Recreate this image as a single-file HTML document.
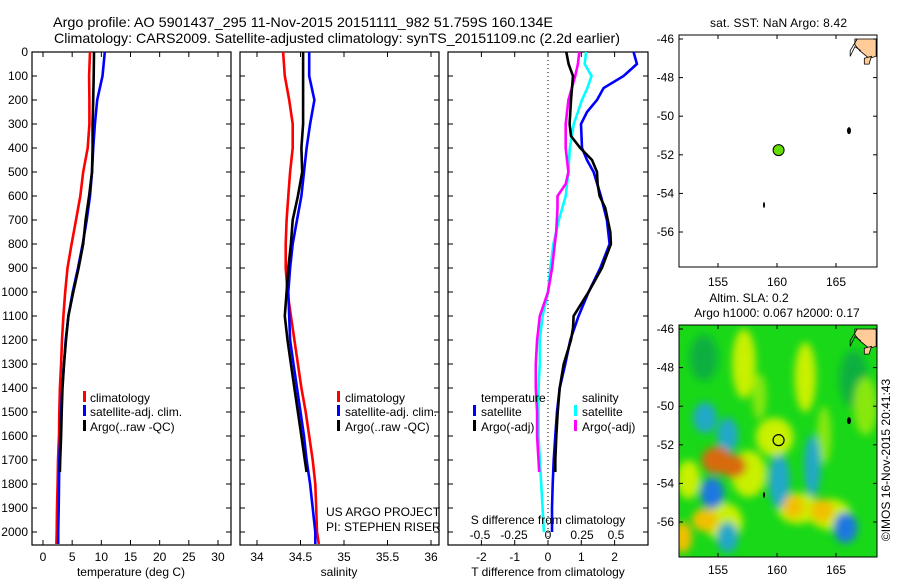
<!DOCTYPE html>
<html><head><meta charset="utf-8"><style>
html,body{margin:0;padding:0;background:#fff}
svg{display:block;font-family:"Liberation Sans",sans-serif}
text{font-size:12px;fill:#000}
</style></head><body>
<svg id="c" width="900" height="580" viewBox="0 0 900 580">
<defs>
<clipPath id="mapclip"><rect x="679" y="325" width="198" height="232"/></clipPath>
<filter id="blur" x="-50%" y="-50%" width="200%" height="200%"><feGaussianBlur stdDeviation="4"/></filter>
</defs>
<text x="53" y="27" style="font-size:14px" textLength="500" lengthAdjust="spacingAndGlyphs">Argo profile: AO 5901437_295 11-Nov-2015 20151111_982 51.759S 160.134E</text>
<text x="54" y="43" style="font-size:14px" textLength="566" lengthAdjust="spacingAndGlyphs">Climatology: CARS2009. Satellite-adjusted climatology: synTS_20151109.nc (2.2d earlier)</text>
<g id="g"></g>
</svg>
<script>
// ---- data ----
const depthT = [0,100,200,300,400,500,600,700,800,900,1000,1100,1200,1300,1400,1500,1600,1700,1800,1900,2000,2050];
const tempClim = [8.06,7.9,7.95,7.95,7.66,6.9,6.4,5.66,4.9,4.2,3.8,3.5,3.26,3.1,2.9,2.8,2.75,2.57,2.5,2.4,2.35,2.3];
const tempSat  = [10.6,10.2,9.3,8.9,8.6,8.4,8.06,7.5,6.8,6.0,5.1,4.35,3.9,3.6,3.3,3.1,2.95,2.8,2.75,2.7,2.6,2.6];
const depthA = [0,100,200,300,400,500,600,700,800,900,1000,1100,1200,1300,1400,1500,1600,1700,1750];
const tempArgo = [8.75,8.7,8.6,8.5,8.5,8.4,7.9,7.3,6.9,6.1,5.2,4.35,3.95,3.6,3.35,3.2,3.1,2.95,2.9];
const salClim = [34.30,34.32,34.37,34.41,34.41,34.38,34.36,34.34,34.33,34.33,34.35,34.39,34.43,34.47,34.51,34.56,34.60,34.64,34.67,34.68,34.69,34.71];
const salSat  = [34.60,34.60,34.66,34.61,34.57,34.54,34.51,34.46,34.41,34.38,34.36,34.37,34.38,34.42,34.46,34.50,34.54,34.57,34.61,34.64,34.67,34.67];
const salArgo = [34.53,34.53,34.53,34.53,34.51,34.52,34.47,34.41,34.39,34.36,34.34,34.32,34.35,34.39,34.43,34.47,34.51,34.55,34.57];
const depthD = [0,50,100,150,200,250,300,400,450,500,600,700,800,900,1000,1100,1200,1300,1400,1500,1600,1700,1800,1900,2000];
const dTsat = [2.57,2.67,2.27,1.67,1.47,1.17,0.99,1.02,1.17,1.37,1.59,1.77,1.85,1.57,1.22,0.92,0.67,0.52,0.35,0.27,0.22,0.17,0.14,0.12,0.12];
const dSsat = [0.28,0.27,0.32,0.29,0.25,0.22,0.19,0.16,0.155,0.15,0.13,0.08,0.04,0.017,0,-0.04,-0.06,-0.06,-0.07,-0.07,-0.07,-0.06,-0.05,-0.04,-0.03];
const depthDA = [0,50,100,200,300,350,400,450,500,550,600,650,750,800,900,1000,1100,1150,1200,1300,1400,1500,1600,1700,1750];
const dTargo = [0.55,0.62,0.75,0.69,0.65,0.69,0.97,1.32,1.47,1.49,1.55,1.72,1.87,1.89,1.62,1.22,0.77,0.75,0.69,0.47,0.35,0.29,0.25,0.22,0.22];
const dSargo = [0.23,0.22,0.20,0.15,0.13,0.13,0.13,0.14,0.15,0.13,0.07,0.07,0.06,0.05,0.03,0,-0.06,-0.07,-0.08,-0.09,-0.09,-0.08,-0.08,-0.07,-0.065];
const depthTicks = [0,100,200,300,400,500,600,700,800,900,1000,1100,1200,1300,1400,1500,1600,1700,1800,1900,2000];
const tempTicks = [0,5,10,15,20,25,30];
const salTicks = [34,34.5,35,35.5,36];
const salTickLabels = ["34","34.5","35","35.5","36"];
const dTTicks = [-2,-1,0,1,2];
const dSTicks = [-0.5,-0.25,0,0.25,0.5];
const dSTickLabels = ["-0.5","-0.25","0","0.25","0.5"];
const lonTicks = [155,160,165];
const latTicks = [-46,-48,-50,-52,-54,-56];
const argoLon = 160.134, argoLat = -51.759;
// SLA blobs: lon, lat, rx(deg), ry(deg), value(-1 blue .. +1 orange)
const slaLon = [157.2,162.4,159.8,157.6,161.8,164.5,152.5,155.5,153.8,166.5,164.0,153.9,155.8,154.9,156.3,154.5,153.9,152.0,155.8,160.2,163.0,163.8,161.4,165.8,167.5,158.5];
const slaLat = [-47.8,-48.5,-51.6,-53.5,-55.3,-55.6,-53.8,-56.0,-47.5,-48.6,-51.5,-50.6,-51.5,-52.8,-53.1,-54.5,-55.9,-56.8,-56.8,-53.9,-53.1,-55.4,-55.2,-56.3,-50.0,-49.5];
const slaRx = [1.0,0.9,1.6,1.5,1.8,1.8,1.0,1.6,1.2,1.2,0.6,1.0,0.9,1.3,1.1,1.0,1.1,0.8,0.9,0.9,0.7,1.0,0.9,1.0,1.0,0.6];
const slaRy = [1.8,1.8,1.0,1.2,0.8,0.8,1.0,1.0,1.2,1.5,1.5,0.8,0.9,0.7,0.6,0.8,0.6,0.8,0.8,1.4,1.6,0.6,0.6,0.8,1.5,1.2];
const slaVal = [0.4,0.4,0.45,0.45,0.45,0.45,0.45,0.45,-0.25,-0.25,0.3,-0.7,-0.7,0.85,0.95,-0.9,0.75,0.75,-0.75,-0.6,-0.6,0.75,0.6,-0.85,0.35,0.3];

// ---- helpers ----
const NS="http://www.w3.org/2000/svg";
const G=document.getElementById('g');
function mk(tag,attrs,parent){const e=document.createElementNS(NS,tag);for(const k in attrs)e.setAttribute(k,attrs[k]);(parent||G).appendChild(e);return e;}
const yTop=52, yBot=545;
const yD = d => yTop + 0.24*d;
const xT = t => 43 + 5.833*t;
const xS = s => 257 + 87*(s-34);
const xDT = t => 548 + 33.3*t;
const xDS = s => 548 + 136*s;

function panel(x0,x1,name){
  const r=mk('rect',{x:x0,y:yTop,width:x1-x0,height:yBot-yTop,fill:'none',stroke:'#000','stroke-width':1.2});
  
  
  depthTicks.forEach(d=>{
    mk('line',{x1:x0,x2:x0+5,y1:yD(d),y2:yD(d),stroke:'#000'});
    mk('line',{x1:x1-5,x2:x1,y1:yD(d),y2:yD(d),stroke:'#000'});
  });
}
function xticks(vals,labels,fx,name){
  vals.forEach((v,i)=>{
    const x=fx(v);
    mk('line',{x1:x,x2:x,y1:yTop,y2:yTop+5,stroke:'#000'});
    mk('line',{x1:x,x2:x,y1:yBot-5,y2:yBot,stroke:'#000'});
    const t=mk('text',{x:x,y:561,'text-anchor':'middle'});t.textContent=labels[i];
    
    
  });
}
function line(xs,ds,fx,color,name){
  const pts=xs.map((v,i)=>fx(v).toFixed(1)+','+yD(ds[i]).toFixed(1)).join(' ');
  const p=mk('polyline',{points:pts,fill:'none',stroke:color,'stroke-width':2.6,'stroke-linejoin':'miter'});
  
  
}
function txt(x,y,s,name,anchor){
  const t=mk('text',{x:x,y:y,'text-anchor':anchor||'start'});t.textContent=s;
  
  
  return t;
}
function legendMark(x,y,color){
  const m=mk('rect',{x:x,y:y-10,width:3,height:11,fill:color});
  
  
}

depthTicks.forEach(d=>{txt(28,yD(d)+4,String(d),'depth-tick-label','end');});

// panel 1
panel(32,231,'temperature-panel');
xticks(tempTicks,tempTicks.map(String),xT,'temperature-tick-label');
line(tempClim,depthT,xT,'#ff0000','temp-climatology-line');
line(tempSat,depthT,xT,'#0000ff','temp-satellite-line');
line(tempArgo,depthA,xT,'#000000','temp-argo-line');
txt(131,576,'temperature (deg C)','temperature-axis-title','middle');
legendMark(83,401,'#ff0000');txt(90,402,'climatology','legend-climatology');
legendMark(83,415,'#0000ff');txt(90,416,'satellite-adj. clim.','legend-satellite');
legendMark(83,430,'#000000');txt(90,431,'Argo(..raw -QC)','legend-argo');

// panel 2
panel(240,439,'salinity-panel');
xticks(salTicks,salTickLabels,xS,'salinity-tick-label');
line(salClim,depthT,xS,'#ff0000','sal-climatology-line');
line(salSat,depthT,xS,'#0000ff','sal-satellite-line');
line(salArgo,depthA,xS,'#000000','sal-argo-line');
txt(339,576,'salinity','salinity-axis-title','middle');
legendMark(337,401,'#ff0000');txt(345,402,'climatology','legend-climatology');
legendMark(337,415,'#0000ff');txt(345,416,'satellite-adj. clim.','legend-satellite');
legendMark(337,430,'#000000');txt(345,431,'Argo(..raw -QC)','legend-argo');
txt(326,516,'US ARGO PROJECT','project-label');
txt(326,531,'PI: STEPHEN RISER','pi-label');

// panel 3
panel(448,648,'difference-panel');
xticks(dTTicks,dTTicks.map(String),xDT,'t-diff-tick-label');
mk('line',{x1:548,x2:548,y1:yTop,y2:yBot,stroke:'#000','stroke-dasharray':'1,3'});
line(dSsat,depthD,xDS,'#00ffff','s-diff-satellite-line');
line(dSargo,depthDA,xDS,'#ff00ff','s-diff-argo-line');
line(dTsat,depthD,xDT,'#0000ff','t-diff-satellite-line');
line(dTargo,depthDA,xDT,'#000000','t-diff-argo-line');
txt(548,576,'T difference from climatology','t-diff-axis-title','middle');
txt(548,524,'S difference from climatology','s-diff-axis-title','middle');
dSTicks.forEach((v,i)=>{txt(xDS(v),539,dSTickLabels[i],'s-diff-tick-label','middle');});
txt(481,402,'temperature','legend-temperature-header');
legendMark(473,415,'#0000ff');txt(481,416,'satellite','legend-t-satellite');
legendMark(473,430,'#000000');txt(481,431,'Argo(-adj)','legend-t-argo');
txt(582,402,'salinity','legend-salinity-header');
legendMark(574,415,'#00ffff');txt(582,416,'satellite','legend-s-satellite');
legendMark(574,430,'#ff00ff');txt(582,431,'Argo(-adj)','legend-s-argo');

// maps
const xLon = l => 777 + 11.8*(l-160);
function mapFrame(top){ return la => top+4 + 19.3*(-46-la); }
function coast(yLat,grp){
  const pts=[[166.6,-46],[168.4,-46],[168.4,-46.9],[167.8,-47.0],[167.0,-46.6],[166.6,-46.3]];
  const p=mk('polygon',{points:pts.map(a=>xLon(a[0])+','+yLat(a[1])).join(' '),fill:'#ffcc99',stroke:'#000','stroke-width':0.8},grp);
  
  
  const s=mk('polygon',{points:[[167.4,-47.0],[168.0,-46.9],[167.8,-47.3],[167.4,-47.3]].map(a=>xLon(a[0])+','+yLat(a[1])).join(' '),fill:'#ffcc99',stroke:'#000','stroke-width':0.8},grp);
  
  
  mk('polyline',{points:[[166.8,-46.0],[166.2,-46.6],[166.2,-46.9],[166.6,-46.4],[167.1,-46.6]].map(a=>xLon(a[0])+','+yLat(a[1])).join(' '),fill:'none',stroke:'#000','stroke-width':0.8},grp);
  const a=mk('ellipse',{cx:xLon(166.1),cy:yLat(-50.75),rx:2,ry:3.5,fill:'#000'},grp);
  
  
  const m=mk('ellipse',{cx:xLon(158.9),cy:yLat(-54.6),rx:1,ry:3,fill:'#000'},grp);
  
  
}
function mapAxes(top,h,yLat,labY,name){
  const r=mk('rect',{x:679,y:top,width:198,height:h,fill:'none',stroke:'#000','stroke-width':1});
  
  
  latTicks.forEach(la=>{
    const y=yLat(la);
    mk('line',{x1:679,x2:683,y1:y,y2:y,stroke:'#000'});
    mk('line',{x1:873,x2:877,y1:y,y2:y,stroke:'#000'});
    txt(674,y+4,String(la),'latitude-tick-label','end');
  });
  lonTicks.forEach(l=>{
    const x=xLon(l);
    mk('line',{x1:x,x2:x,y1:top,y2:top+4,stroke:'#000'});
    mk('line',{x1:x,x2:x,y1:top+h-4,y2:top+h,stroke:'#000'});
    txt(x,labY,String(l),'longitude-tick-label','middle');
  });
}
// top map
const yLat1 = mapFrame(35);
const gTop = mk('g',{});


mk('rect',{x:679,y:35,width:198,height:232,fill:'#fff'},gTop);
coast(yLat1,gTop);
const d1=mk('circle',{cx:xLon(argoLon),cy:yLat1(argoLat),r:5.5,fill:'#66dd00',stroke:'#000','stroke-width':1},gTop);


mapAxes(35,232,yLat1,286,'sst-map-frame');
const st=txt(710,27,'sat. SST: NaN Argo: 8.42','sst-map-title');
st.setAttribute('textLength','137');

// bottom map (SLA)
const yLat2 = mapFrame(325);
const gB = mk('g',{'clip-path':'url(#mapclip)'});


mk('rect',{x:679,y:325,width:198,height:232,fill:'#18d818'},gB);
const gBl = mk('g',{filter:'url(#blur)'},gB);
function slaColor(v){
  if(v<=-0.8) return '#1a78e0';
  if(v<=-0.5) return '#20a8c8';
  if(v<=-0.2) return '#10b040';
  if(v<=0.35) return '#88e810';
  if(v<=0.5) return '#c8f000';
  if(v<=0.8) return '#f0c000';
  return '#d86a10';
}
slaLon.forEach((lo,i)=>{
  const e=mk('ellipse',{cx:xLon(lo),cy:yLat2(slaLat[i]),rx:slaRx[i]*11.8,ry:slaRy[i]*19.3,fill:slaColor(slaVal[i])},gBl);
  
  
});
coast(yLat2,gB);
const d2=mk('circle',{cx:xLon(argoLon),cy:yLat2(argoLat),r:5.5,fill:'none',stroke:'#000','stroke-width':1.2});


mapAxes(325,232,yLat2,574,'sla-map-frame');
txt(749,302,'Altim. SLA: 0.2','sla-map-title','middle');
txt(777,317,'Argo h1000: 0.067 h2000: 0.17','sla-map-subtitle','middle');
const cr=txt(0,0,'©IMOS 16-Nov-2015 20:41:43','imos-credit','middle');
cr.setAttribute('transform','translate(890,460) rotate(-90)');
</script>
</body></html>
